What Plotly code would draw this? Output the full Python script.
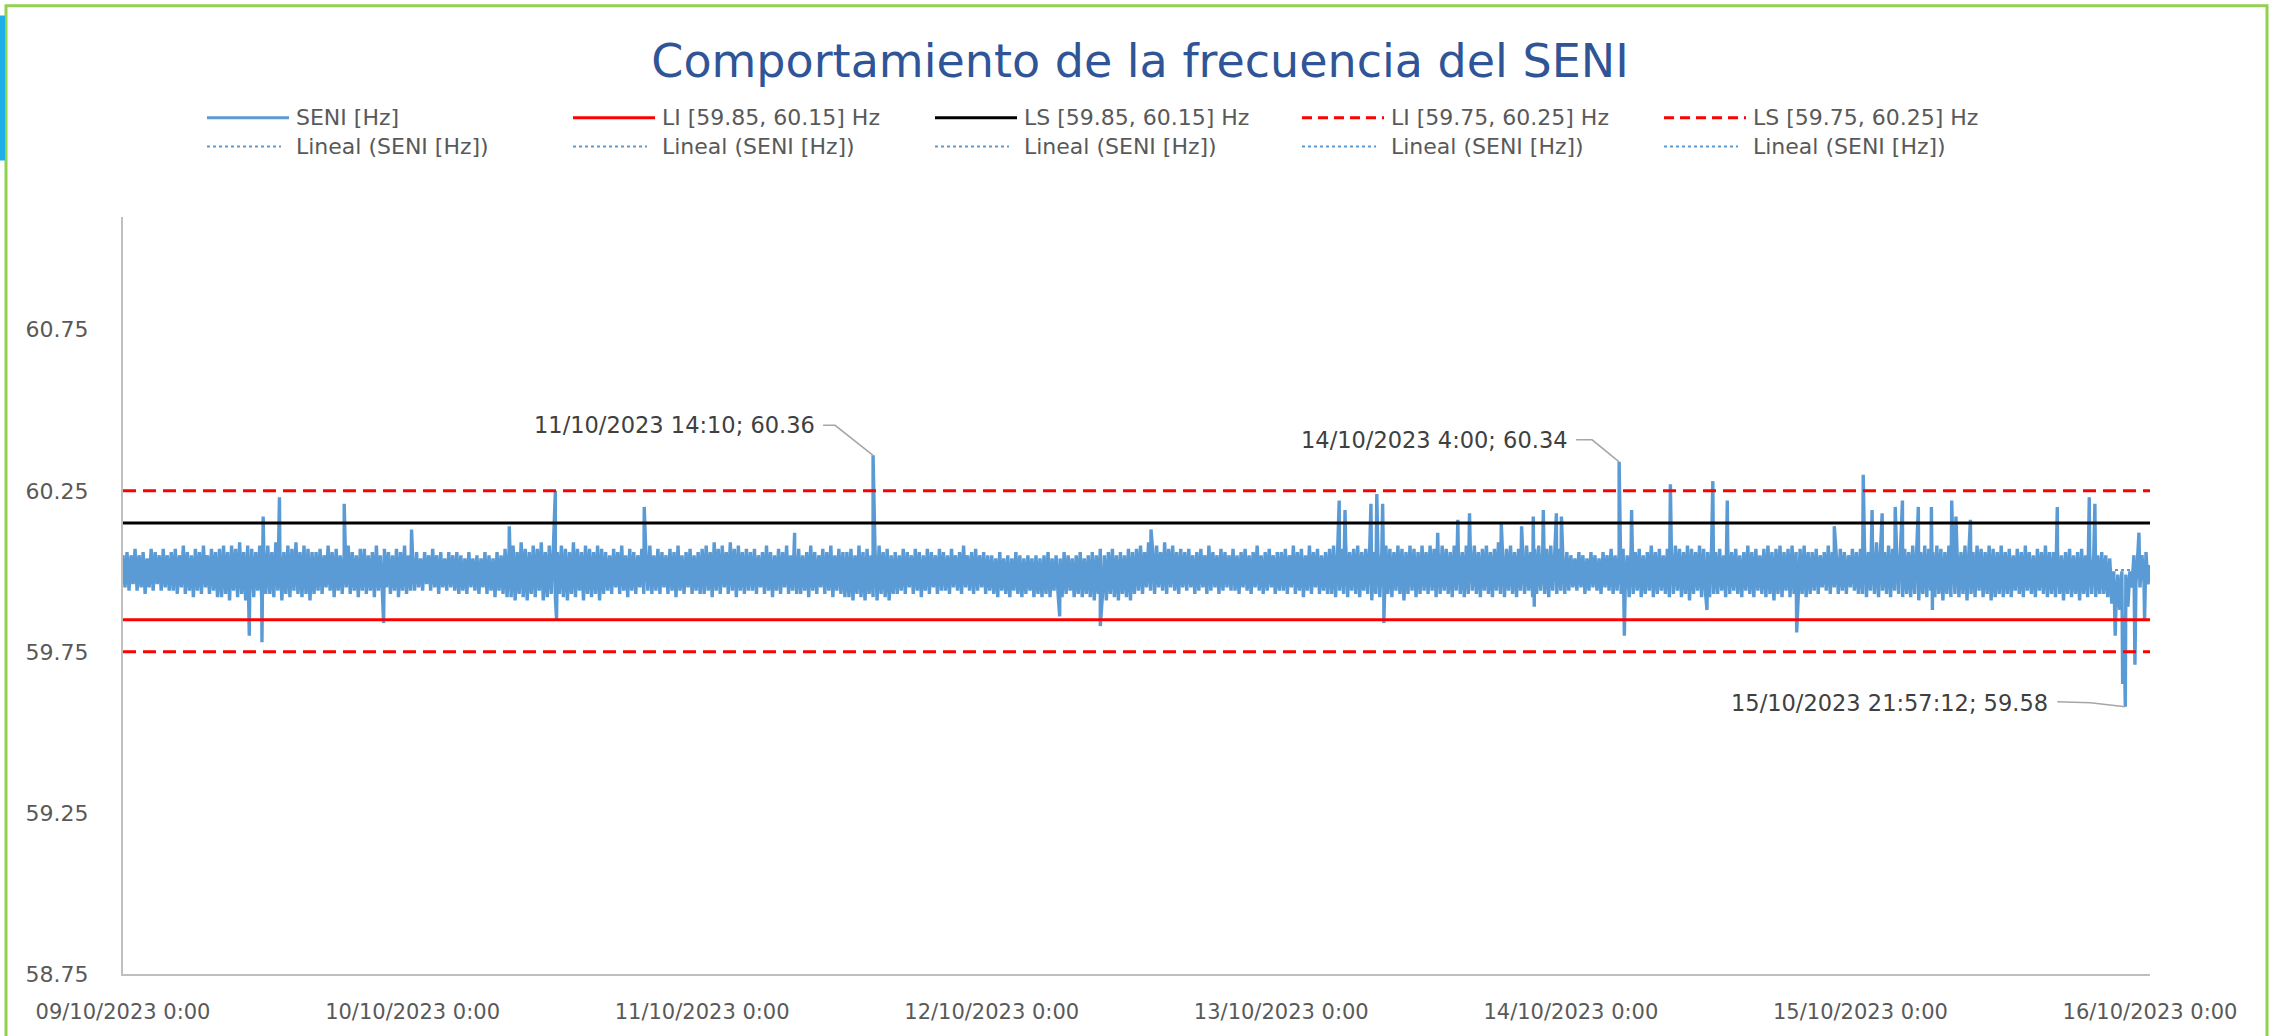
import numpy as np
import pandas as pd
import plotly.graph_objects as go

# ---------------- DATA ----------------
START = "2023-10-09 00:00"
END = "2023-10-16 00:00"
STEP_MIN = 10  # sampling step of the base series (minutes)

# SENI frequency [Hz], one value every 10 minutes from 09/10/2023 0:00 to 16/10/2023 0:00
# (each row = 4 hours)
SENI_BASE_HZ = [
    # 09/10
    60.05, 59.95, 60.06, 59.94, 60.05, 59.96, 60.07, 59.94, 60.05, 59.95, 60.06, 59.93, 60.04, 59.95, 60.07, 59.94, 60.06, 59.96, 60.05, 59.94, 60.07, 59.95, 60.05, 59.94,
    60.06, 59.94, 60.07, 59.93, 60.05, 59.95, 60.08, 59.93, 60.06, 59.94, 60.05, 59.92, 60.07, 59.94, 60.06, 59.93, 60.08, 59.95, 60.05, 59.93, 60.07, 59.94, 60.06, 59.92,
    60.07, 59.92, 60.08, 59.93, 60.06, 59.91, 60.08, 59.94, 60.07, 59.92, 60.09, 59.93, 60.06, 59.91, 60.08, 59.93, 60.07, 59.92, 60.06, 59.94, 60.08, 59.91, 60.07, 59.93,
    60.08, 59.93, 60.06, 59.92, 60.09, 59.94, 60.07, 59.91, 60.06, 59.93, 60.08, 59.92, 60.07, 59.94, 60.09, 59.93, 60.06, 59.92, 60.08, 59.93, 60.07, 59.91, 60.06, 59.93,
    60.06, 59.94, 60.07, 59.93, 60.05, 59.95, 60.08, 59.94, 60.06, 59.92, 60.07, 59.94, 60.05, 59.93, 60.06, 59.95, 60.08, 59.93, 60.06, 59.94, 60.05, 59.92, 60.07, 59.94,
    60.07, 59.93, 60.05, 59.94, 60.06, 59.92, 60.08, 59.94, 60.05, 59.93, 60.07, 59.95, 60.06, 59.93, 60.05, 59.94, 60.07, 59.92, 60.06, 59.94, 60.08, 59.93, 60.05, 59.94,
    # 10/10
    60.05, 59.94, 60.06, 59.95, 60.04, 59.94, 60.06, 59.96, 60.05, 59.94, 60.07, 59.95, 60.05, 59.93, 60.06, 59.95, 60.04, 59.94, 60.06, 59.95, 60.05, 59.94, 60.06, 59.93,
    60.05, 59.94, 60.04, 59.93, 60.06, 59.95, 60.04, 59.94, 60.05, 59.93, 60.04, 59.95, 60.06, 59.93, 60.05, 59.94, 60.04, 59.92, 60.06, 59.94, 60.05, 59.93, 60.07, 59.92,
    60.07, 59.92, 60.08, 59.91, 60.06, 59.93, 60.09, 59.92, 60.07, 59.91, 60.06, 59.93, 60.08, 59.92, 60.07, 59.94, 60.09, 59.91, 60.06, 59.92, 60.08, 59.93, 60.07, 59.92,
    60.06, 59.93, 60.08, 59.92, 60.07, 59.91, 60.06, 59.93, 60.09, 59.92, 60.07, 59.94, 60.06, 59.91, 60.08, 59.93, 60.07, 59.92, 60.06, 59.93, 60.08, 59.91, 60.07, 59.93,
    60.06, 59.94, 60.05, 59.93, 60.07, 59.95, 60.06, 59.93, 60.08, 59.94, 60.05, 59.92, 60.07, 59.94, 60.06, 59.93, 60.05, 59.95, 60.07, 59.93, 60.06, 59.94, 60.08, 59.93,
    60.05, 59.94, 60.07, 59.93, 60.06, 59.95, 60.05, 59.93, 60.07, 59.94, 60.06, 59.92, 60.08, 59.94, 60.05, 59.93, 60.06, 59.95, 60.07, 59.93, 60.05, 59.94, 60.06, 59.93,
    # 11/10
    60.07, 59.93, 60.08, 59.94, 60.06, 59.92, 60.09, 59.94, 60.07, 59.93, 60.08, 59.95, 60.06, 59.93, 60.09, 59.94, 60.07, 59.92, 60.08, 59.94, 60.06, 59.93, 60.07, 59.94,
    60.06, 59.94, 60.07, 59.93, 60.05, 59.95, 60.06, 59.93, 60.08, 59.94, 60.06, 59.92, 60.05, 59.94, 60.07, 59.93, 60.06, 59.95, 60.08, 59.93, 60.05, 59.94, 60.06, 59.93,
    60.07, 59.93, 60.05, 59.94, 60.06, 59.92, 60.08, 59.94, 60.06, 59.93, 60.05, 59.95, 60.07, 59.93, 60.06, 59.94, 60.08, 59.92, 60.05, 59.94, 60.07, 59.93, 60.06, 59.92,
    60.06, 59.92, 60.07, 59.91, 60.05, 59.93, 60.08, 59.92, 60.06, 59.91, 60.07, 59.93, 60.05, 59.92, 60.06, 59.91, 60.08, 59.93, 60.06, 59.92, 60.07, 59.91, 60.05, 59.93,
    60.06, 59.93, 60.05, 59.94, 60.07, 59.93, 60.06, 59.95, 60.05, 59.93, 60.07, 59.94, 60.06, 59.92, 60.05, 59.94, 60.07, 59.93, 60.06, 59.95, 60.05, 59.93, 60.07, 59.94,
    60.06, 59.94, 60.05, 59.93, 60.07, 59.95, 60.05, 59.94, 60.06, 59.93, 60.08, 59.95, 60.05, 59.94, 60.06, 59.93, 60.07, 59.94, 60.05, 59.95, 60.06, 59.93, 60.05, 59.94,
    # 12/10
    60.05, 59.93, 60.04, 59.92, 60.06, 59.94, 60.04, 59.93, 60.05, 59.92, 60.04, 59.94, 60.06, 59.93, 60.05, 59.92, 60.04, 59.93, 60.05, 59.94, 60.04, 59.92, 60.05, 59.93,
    60.04, 59.92, 60.05, 59.93, 60.06, 59.92, 60.04, 59.94, 60.05, 59.93, 60.04, 59.92, 60.06, 59.93, 60.05, 59.94, 60.04, 59.92, 60.05, 59.93, 60.06, 59.92, 60.04, 59.93,
    60.05, 59.92, 60.06, 59.91, 60.05, 59.93, 60.07, 59.92, 60.05, 59.91, 60.06, 59.93, 60.07, 59.92, 60.05, 59.91, 60.06, 59.93, 60.05, 59.92, 60.07, 59.91, 60.06, 59.93,
    60.07, 59.94, 60.08, 59.93, 60.06, 59.95, 60.09, 59.94, 60.07, 59.93, 60.08, 59.95, 60.06, 59.94, 60.09, 59.93, 60.07, 59.95, 60.08, 59.94, 60.06, 59.93, 60.07, 59.95,
    60.06, 59.94, 60.07, 59.95, 60.05, 59.93, 60.06, 59.94, 60.07, 59.95, 60.05, 59.93, 60.08, 59.94, 60.06, 59.95, 60.05, 59.93, 60.07, 59.94, 60.06, 59.95, 60.05, 59.94,
    60.07, 59.94, 60.05, 59.93, 60.06, 59.95, 60.07, 59.94, 60.05, 59.93, 60.06, 59.95, 60.08, 59.94, 60.05, 59.93, 60.06, 59.94, 60.07, 59.95, 60.05, 59.93, 60.06, 59.94,
    # 13/10
    60.06, 59.94, 60.07, 59.93, 60.05, 59.95, 60.08, 59.93, 60.06, 59.94, 60.07, 59.92, 60.05, 59.94, 60.08, 59.93, 60.06, 59.95, 60.07, 59.93, 60.05, 59.94, 60.06, 59.93,
    60.07, 59.93, 60.08, 59.92, 60.06, 59.94, 60.07, 59.93, 60.09, 59.92, 60.06, 59.94, 60.07, 59.93, 60.08, 59.92, 60.06, 59.94, 60.07, 59.93, 60.08, 59.91, 60.06, 59.93,
    60.07, 59.92, 60.06, 59.94, 60.08, 59.93, 60.07, 59.92, 60.06, 59.94, 60.08, 59.93, 60.07, 59.91, 60.06, 59.93, 60.08, 59.94, 60.07, 59.92, 60.06, 59.93, 60.08, 59.94,
    60.06, 59.93, 60.08, 59.94, 60.07, 59.92, 60.06, 59.93, 60.08, 59.94, 60.07, 59.93, 60.06, 59.92, 60.08, 59.94, 60.07, 59.93, 60.06, 59.92, 60.08, 59.93, 60.07, 59.94,
    60.08, 59.93, 60.06, 59.92, 60.07, 59.94, 60.08, 59.93, 60.06, 59.92, 60.07, 59.94, 60.09, 59.93, 60.06, 59.92, 60.07, 59.94, 60.08, 59.93, 60.06, 59.92, 60.07, 59.94,
    60.07, 59.93, 60.08, 59.94, 60.06, 59.92, 60.07, 59.93, 60.08, 59.94, 60.06, 59.93, 60.07, 59.92, 60.08, 59.94, 60.06, 59.93, 60.07, 59.94, 60.05, 59.93, 60.06, 59.94,
    # 14/10
    60.05, 59.95, 60.04, 59.94, 60.06, 59.95, 60.05, 59.93, 60.04, 59.94, 60.06, 59.95, 60.05, 59.94, 60.04, 59.93, 60.06, 59.95, 60.05, 59.94, 60.07, 59.93, 60.05, 59.94,
    60.06, 59.93, 60.07, 59.94, 60.05, 59.92, 60.08, 59.93, 60.06, 59.94, 60.07, 59.92, 60.05, 59.93, 60.06, 59.94, 60.08, 59.92, 60.06, 59.93, 60.07, 59.94, 60.05, 59.93,
    60.07, 59.92, 60.06, 59.93, 60.08, 59.94, 60.07, 59.92, 60.06, 59.93, 60.08, 59.91, 60.07, 59.93, 60.06, 59.94, 60.08, 59.92, 60.07, 59.93, 60.06, 59.92, 60.08, 59.93,
    60.06, 59.93, 60.07, 59.94, 60.05, 59.92, 60.08, 59.93, 60.06, 59.94, 60.07, 59.93, 60.05, 59.92, 60.06, 59.94, 60.08, 59.93, 60.06, 59.92, 60.07, 59.94, 60.05, 59.93,
    60.07, 59.92, 60.08, 59.93, 60.06, 59.91, 60.07, 59.93, 60.08, 59.92, 60.06, 59.94, 60.07, 59.92, 60.08, 59.93, 60.06, 59.91, 60.07, 59.93, 60.08, 59.92, 60.06, 59.93,
    60.06, 59.94, 60.07, 59.93, 60.05, 59.95, 60.06, 59.94, 60.08, 59.93, 60.06, 59.95, 60.05, 59.93, 60.07, 59.94, 60.06, 59.93, 60.05, 59.95, 60.07, 59.94, 60.06, 59.93,
    # 15/10
    60.07, 59.93, 60.08, 59.92, 60.06, 59.94, 60.07, 59.93, 60.09, 59.92, 60.07, 59.94, 60.06, 59.93, 60.08, 59.92, 60.07, 59.94, 60.06, 59.93, 60.08, 59.92, 60.07, 59.93,
    60.06, 59.92, 60.08, 59.93, 60.07, 59.91, 60.06, 59.93, 60.08, 59.92, 60.07, 59.94, 60.06, 59.92, 60.08, 59.93, 60.07, 59.91, 60.06, 59.93, 60.08, 59.92, 60.07, 59.93,
    60.07, 59.92, 60.06, 59.93, 60.08, 59.91, 60.07, 59.93, 60.06, 59.92, 60.08, 59.94, 60.07, 59.92, 60.06, 59.93, 60.08, 59.91, 60.07, 59.92, 60.06, 59.93, 60.08, 59.92,
    60.06, 59.93, 60.07, 59.92, 60.05, 59.94, 60.07, 59.93, 60.06, 59.92, 60.08, 59.94, 60.06, 59.93, 60.05, 59.92, 60.07, 59.94, 60.06, 59.93, 60.08, 59.92, 60.06, 59.93,
    60.06, 59.92, 60.07, 59.93, 60.05, 59.91, 60.06, 59.93, 60.07, 59.92, 60.05, 59.93, 60.06, 59.91, 60.07, 59.93, 60.05, 59.92, 60.06, 59.93, 60.04, 59.92, 60.05, 59.93,
    60.06, 59.93, 60.05, 59.92, 60.04, 59.90, 60.00, 59.87, 59.99, 59.88, 60.00, 59.86, 59.99, 59.89, 60.00, 59.95, 60.05, 59.96, 60.06, 59.95, 60.05, 59.97, 60.06, 59.96,
    # 16/10 0:00
    60.02,
]

# isolated excursions (spikes)
SPIKE_TIMES = [
    "2023-10-09 10:28", "2023-10-09 11:31", "2023-10-09 11:37", "2023-10-09 12:58", "2023-10-09 18:20",
    "2023-10-09 21:36", "2023-10-09 23:55", "2023-10-10 08:01", "2023-10-10 11:50", "2023-10-10 11:56",
    "2023-10-10 19:12", "2023-10-11 07:40", "2023-10-12 05:38", "2023-10-12 09:00", "2023-10-12 13:12",
    "2023-10-13 04:48", "2023-10-13 05:17", "2023-10-13 07:26", "2023-10-13 07:55", "2023-10-13 08:24",
    "2023-10-13 08:30", "2023-10-13 12:58", "2023-10-13 14:38", "2023-10-13 15:36", "2023-10-13 18:14",
    "2023-10-13 19:55", "2023-10-13 20:53", "2023-10-13 20:58", "2023-10-13 21:43", "2023-10-13 22:48",
    "2023-10-13 23:13", "2023-10-14 04:26", "2023-10-14 05:02", "2023-10-14 08:15", "2023-10-14 11:17",
    "2023-10-14 11:46", "2023-10-14 12:58", "2023-10-14 18:43", "2023-10-14 21:50", "2023-10-15 00:14",
    "2023-10-15 00:58", "2023-10-15 01:48", "2023-10-15 02:53", "2023-10-15 03:29", "2023-10-15 04:48",
    "2023-10-15 05:53", "2023-10-15 05:58", "2023-10-15 07:34", "2023-10-15 07:55", "2023-10-15 09:07",
    "2023-10-15 16:19", "2023-10-15 18:58", "2023-10-15 19:26", "2023-10-15 21:07", "2023-10-15 21:44",
    "2023-10-15 22:45", "2023-10-15 23:05", "2023-10-15 23:33",
]
SPIKE_HZ = [
    59.80, 59.78, 60.17, 60.23, 60.21,
    59.84, 60.13, 60.14, 60.25, 59.85,
    60.20, 60.12, 59.86, 59.83, 60.13,
    60.22, 60.19, 60.21, 60.24, 60.21,
    59.84, 60.12, 60.16, 60.18, 60.15,
    60.14, 60.17, 59.89, 60.19, 60.18,
    60.17, 59.80, 60.19, 60.27, 59.88,
    60.28, 60.22, 59.81, 60.14, 60.30,
    60.19, 60.18, 60.20, 60.22, 60.20,
    60.20, 59.88, 60.22, 60.17, 60.16,
    60.20, 60.23, 60.21, 59.80, 59.65,
    59.71, 60.12, 59.85,
]

# labelled extreme points
ANNOT_TIMES = ["2023-10-11 14:10:00", "2023-10-14 04:00:00", "2023-10-15 21:57:12"]
ANNOT_HZ = [60.36, 60.34, 59.58]
ANNOT_LABELS = ["11/10/2023 14:10; 60.36", "14/10/2023 4:00; 60.34", "15/10/2023 21:57:12; 59.58"]

LIMIT_NAMES = ["LI [59.85, 60.15] Hz", "LS [59.85, 60.15] Hz", "LI [59.75, 60.25] Hz", "LS [59.75, 60.25] Hz"]
LIMIT_HZ = [59.85, 60.15, 59.75, 60.25]
SERIES_NAME = "SENI [Hz]"
TREND_NAME = "Lineal (SENI [Hz])"

Y_TICKS = [58.75, 59.25, 59.75, 60.25, 60.75]
Y_RANGE = [58.75, 61.10]
X_TICKS = ["2023-10-09", "2023-10-10", "2023-10-11", "2023-10-12", "2023-10-13", "2023-10-14", "2023-10-15", "2023-10-16"]
X_TICK_LABELS = ["09/10/2023 0:00", "10/10/2023 0:00", "11/10/2023 0:00", "12/10/2023 0:00",
                 "13/10/2023 0:00", "14/10/2023 0:00", "15/10/2023 0:00", "16/10/2023 0:00"]
TITLE = "Comportamiento de la frecuencia del SENI"

# ---------------- STYLE / LAYOUT ----------------
W, H = 2273, 1036
ML, MR, MT, MB = 123, 123, 217, 56
PW, PH = W - ML - MR, H - MT - MB
FONT = "DejaVu Sans"
BLUE = "#5B9BD5"
RED = "#FF0000"
GREY_TXT = "#595959"
DASH = "13px,7px"


def px_x(px):
    return (px - ML) / PW


def px_y(py):
    return (H - MB - py) / PH


# ---------------- SERIES ----------------
base_t = pd.Timestamp(START) + pd.to_timedelta(np.arange(len(SENI_BASE_HZ)) * STEP_MIN, unit="min")
df = pd.concat([
    pd.DataFrame({"t": base_t, "f": SENI_BASE_HZ}),
    pd.DataFrame({"t": pd.to_datetime(SPIKE_TIMES), "f": SPIKE_HZ}),
    pd.DataFrame({"t": pd.to_datetime(ANNOT_TIMES), "f": ANNOT_HZ}),
]).sort_values("t").reset_index(drop=True)

fig = go.Figure()
fig.add_trace(go.Scatter(x=df["t"], y=df["f"], mode="lines", name=SERIES_NAME,
                         line=dict(color=BLUE, width=3.4, simplify=False), showlegend=False))

# linear trend (Excel "Lineal")
tdays = (df["t"] - pd.Timestamp(START)).dt.total_seconds().values / 86400.0
slope, icpt = np.polyfit(tdays, df["f"].values, 1)
t_end_days = (pd.Timestamp(END) - pd.Timestamp(START)).total_seconds() / 86400.0
for _ in range(5):
    fig.add_trace(go.Scatter(x=[START, END], y=[icpt, icpt + slope * t_end_days], mode="lines",
                             name=TREND_NAME, line=dict(color=BLUE, width=2, dash="dot"), showlegend=False))

limit_styles = [dict(color=RED, width=3), dict(color="#000000", width=3),
                dict(color=RED, width=3, dash=DASH), dict(color=RED, width=3, dash=DASH)]
for name, v, st in zip(LIMIT_NAMES, LIMIT_HZ, limit_styles):
    fig.add_trace(go.Scatter(x=[START, END], y=[v, v], mode="lines", name=name, line=st, showlegend=False))

shapes = []
annotations = []

# data labels with leader lines
label_offsets = [(-56, 30), (-49, 22), (-75, 4)]
leader_paths = ["M -50,30 L -38,30 L 0,0", "M -43,22 L -27,22 L 0,0", "M -68,5 L -35,4 L 0,0"]
for t, v, lab, (dx, dy), pth in zip(ANNOT_TIMES, ANNOT_HZ, ANNOT_LABELS, label_offsets, leader_paths):
    annotations.append(dict(x=t, y=v, xref="x", yref="y", text=lab, showarrow=False,
                            xanchor="right", yanchor="middle", xshift=dx, yshift=dy,
                            font=dict(family=FONT, size=22.5, color="#404040")))
    shapes.append(dict(type="path", xref="x", yref="y", xsizemode="pixel", ysizemode="pixel",
                       xanchor=t, yanchor=v, path=pth, line=dict(color="#A6A6A6", width=1.5)))

# manual legend (Excel style, 2 rows x 5 columns)
col_x = [207, 573, 935, 1302, 1664]
row_y = [117, 146]
sym_len = 82
row1 = [(SERIES_NAME, dict(color=BLUE, width=3))] + list(zip(LIMIT_NAMES, limit_styles))
for i, (name, st) in enumerate(row1):
    st2 = dict(st)
    if "dash" in st2:
        st2["dash"] = "10px,6px"
    shapes.append(dict(type="line", xref="paper", yref="paper", x0=px_x(col_x[i]), x1=px_x(col_x[i] + sym_len),
                       y0=px_y(row_y[0]), y1=px_y(row_y[0]), line=st2))
    annotations.append(dict(x=px_x(col_x[i] + sym_len + 5), y=px_y(row_y[0]), xref="paper", yref="paper",
                            text=name, showarrow=False, xanchor="left", yanchor="middle",
                            font=dict(family=FONT, size=22, color=GREY_TXT)))
for i in range(5):
    shapes.append(dict(type="line", xref="paper", yref="paper", x0=px_x(col_x[i]), x1=px_x(col_x[i] + sym_len - 8),
                       y0=px_y(row_y[1]), y1=px_y(row_y[1]), line=dict(color=BLUE, width=2, dash="dot")))
    annotations.append(dict(x=px_x(col_x[i] + sym_len + 5), y=px_y(row_y[1]), xref="paper", yref="paper",
                            text=TREND_NAME, showarrow=False, xanchor="left", yanchor="middle",
                            font=dict(family=FONT, size=22, color=GREY_TXT)))

# frame decorations (green border, blue tab)
shapes.append(dict(type="rect", xref="paper", yref="paper", x0=px_x(6), x1=px_x(2267), y0=px_y(1045), y1=px_y(4),
                   line=dict(color="#92D050", width=3), fillcolor="rgba(0,0,0,0)"))
shapes.append(dict(type="rect", xref="paper", yref="paper", x0=px_x(0), x1=px_x(5), y0=px_y(160), y1=px_y(14),
                   line=dict(width=0), fillcolor="#1FAEE5"))

fig.update_layout(
    width=W, height=H,
    margin=dict(l=ML, r=MR, t=MT, b=MB, pad=0),
    paper_bgcolor="white", plot_bgcolor="white",
    title=dict(text=TITLE, x=1140 / W, y=1 - 61 / H, xref="container", yref="container",
               xanchor="center", yanchor="middle", font=dict(family=FONT, size=46, color="#2F5597")),
    showlegend=False,
    shapes=shapes, annotations=annotations,
    xaxis=dict(type="date", range=[START, END], tickvals=X_TICKS, ticktext=X_TICK_LABELS,
               showgrid=False, zeroline=False, showline=True, linecolor="#BFBFBF", linewidth=2,
               ticks="", ticklabelstandoff=18, tickfont=dict(family=FONT, size=21, color=GREY_TXT)),
    yaxis=dict(range=Y_RANGE, tickvals=Y_TICKS, ticktext=[f"{v:.2f}" for v in Y_TICKS],
               showgrid=False, zeroline=False, showline=True, linecolor="#BFBFBF", linewidth=2,
               ticks="", ticklabelstandoff=28, tickfont=dict(family=FONT, size=22, color=GREY_TXT)),
    font=dict(family=FONT),
)

fig.write_html("out.html", config={"displayModeBar": False},
               post_script="document.body.style.margin='0';document.body.style.overflow='hidden';")
